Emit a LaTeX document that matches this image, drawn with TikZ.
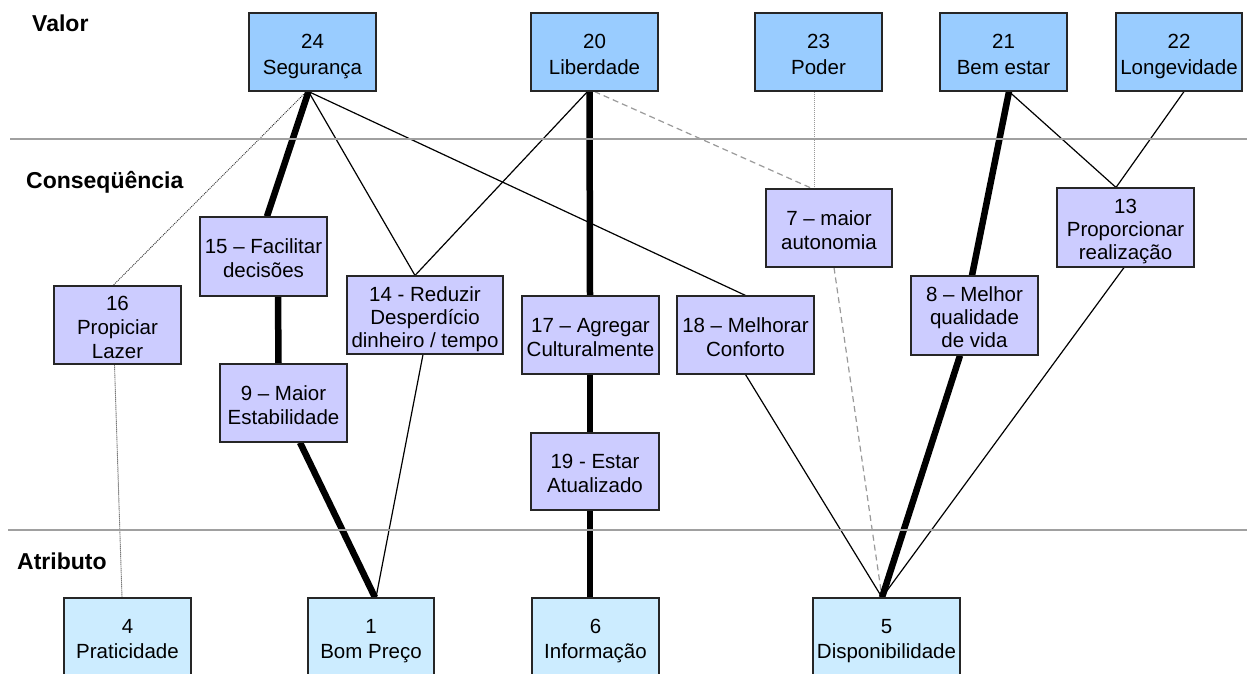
\documentclass[tikz,border=0pt]{standalone}
\usepackage{fontspec}
\setmainfont{Liberation Sans}
\usetikzlibrary{backgrounds}
\definecolor{valfill}{HTML}{99CCFF}
\definecolor{confill}{HTML}{CCCCFF}
\definecolor{atrfill}{HTML}{CCECFF}
\definecolor{sepgray}{HTML}{A0A0A0}
\definecolor{lgray}{HTML}{999999}
\newcommand{\topstrut}{\rule{0pt}{23.5pt}}
\begin{document}
\begin{tikzpicture}[x=1pt,y=-1pt,
  box/.style={draw=black!85, line width=1.1pt, inner sep=0pt, align=center,
    minimum height=78pt, font=\fontsize{20.5}{24}\selectfont,
    execute at end node={\rule[-5pt]{0pt}{5pt}}},
  valbox/.style={box, fill=valfill, font=\fontsize{20.5}{26}\selectfont},
  conbox/.style={box, fill=confill},
  atrbox/.style={box, fill=atrfill, font=\fontsize{20.5}{25}\selectfont},
  level/.style={anchor=base west, inner sep=0pt, font=\fontsize{23}{27}\selectfont\bfseries},
  sepline/.style={draw=sepgray, line width=1.4pt},
  strong/.style={line width=6.5pt},
  thinl/.style={line width=1.2pt},
  dotl/.style={line width=0.9pt, black!80, dash pattern=on 1pt off 1pt},
  dashl/.style={line width=1.2pt, lgray, dash pattern=on 6pt off 4pt},
  gdotl/.style={line width=1pt, lgray, dash pattern=on 1pt off 1pt}]
\useasboundingbox (0,0) rectangle (1250,673);
\clip (0,0) rectangle (1250,673);
% separators
\coordinate (s1l) at (10,139); \coordinate (s1r) at (1247,139);
\coordinate (s2l) at (8,530); \coordinate (s2r) at (1247,530);
\draw[sepline] (s1l) -- (s1r);
\draw[sepline] (s2l) -- (s2r);
% level labels
\node[level] (lv) at (32,31.5) {Valor};
\node[level] (lc) at (26,188) {Conseqüência};
\node[level] (la) at (17,569) {Atributo};
% values
\node[valbox, minimum width=127pt] (v24) at (312.5,52) {\topstrut 24\\Segurança};
\node[valbox, minimum width=127pt] (v20) at (594.5,52) {\topstrut 20\\Liberdade};
\node[valbox, minimum width=127pt] (v23) at (818.5,52) {\topstrut 23\\Poder};
\node[valbox, minimum width=127pt] (v21) at (1003.5,52) {\topstrut 21\\Bem estar};
\node[valbox, minimum width=126pt] (v22) at (1179,52) {\topstrut 22\\Longevidade};
% consequences
\node[conbox, minimum width=127pt, minimum height=79pt] (c15) at (263.5,256.5) {\topstrut 15 – Facilitar\\decisões};
\node[conbox, minimum width=127pt] (c16) at (117.5,325) {\topstrut 16\\Propiciar\\Lazer};
\node[conbox, minimum width=156pt, font=\fontsize{20.5}{23}\selectfont] (c14) at (425,315) {\topstrut 14 - Reduzir\\Desperdício\\dinheiro / tempo};
\node[conbox, minimum width=127pt] (c9) at (283.5,403) {\topstrut 9 – Maior\\Estabilidade};
\node[conbox, minimum width=137pt] (c17) at (590.5,335) {\topstrut 17 – Agregar\\Culturalmente};
\node[conbox, minimum width=137pt] (c18) at (745.5,335) {\topstrut 18 – Melhorar\\Conforto};
\node[conbox, minimum width=128pt, minimum height=77pt] (c19) at (595,471.5) {\topstrut 19 - Estar\\Atualizado};
\node[conbox, minimum width=126pt] (c7) at (829,228) {\topstrut 7 – maior\\autonomia};
\node[conbox, minimum width=137pt, minimum height=79pt, font=\fontsize{20.5}{23}\selectfont] (c13) at (1125.5,227.5) {\topstrut 13\\Proporcionar\\realização};
\node[conbox, minimum width=127pt, minimum height=79pt, font=\fontsize{20.5}{23}\selectfont] (c8) at (974.5,315.5) {\topstrut 8 – Melhor\\qualidade\\de vida};
% attributes
\node[atrbox, minimum width=127pt] (a4) at (127.5,637) {\topstrut 4\\Praticidade};
\node[atrbox, minimum width=126pt] (a1) at (371,637) {\topstrut 1\\Bom Preço};
\node[atrbox, minimum width=127pt] (a6) at (595.5,637) {\topstrut 6\\Informação};
\node[atrbox, minimum width=147pt] (a5) at (886.5,637) {\topstrut 5\\Disponibilidade};
% connectors
\begin{pgfonlayer}{background}
\draw[strong] ([xshift=-4pt]v24.south) -- ([xshift=3.5pt]c15.north);
\draw[strong] ([xshift=14.5pt]c15.south) -- ([xshift=-5pt]c9.north);
\draw[strong] ([xshift=16.5pt]c9.south) -- ([xshift=4pt]a1.north);
\draw[thinl] ([xshift=-2pt]c14.south) -- ([xshift=5pt]a1.north);
\draw[thinl] ([xshift=-4pt]v24.south) -- ([xshift=-10pt]c14.north);
\draw[thinl] ([xshift=-7pt]v20.south) -- ([xshift=-10pt]c14.north);
\draw[thinl] ([xshift=-4pt]v24.south) -- (c18.north);
\draw[dotl] ([xshift=-6pt]v24.south) -- ([xshift=-4.5pt]c16.north);
\draw[dotl] ([xshift=-3pt]c16.south) -- ([xshift=-5.5pt]a4.north);
\draw[strong] ([xshift=-5pt]v20.south) -- ([xshift=-0.5pt]c17.north);
\draw[strong] ([xshift=-0.5pt]c17.south) -- ([xshift=-5pt]c19.north);
\draw[strong] ([xshift=-5pt]c19.south) -- ([xshift=-5.5pt]a6.north);
\draw[dashl] (v20.south) -- ([xshift=-17pt]c7.north);
\draw[gdotl] ([xshift=-4.5pt]v23.south) -- ([xshift=-15pt]c7.north);
\draw[dashl] ([xshift=5pt]c7.south) -- ([xshift=-4.5pt]a5.north);
\draw[thinl] (c18.south) -- ([xshift=-4.5pt]a5.north);
\draw[strong] ([xshift=5.5pt]v21.south) -- ([xshift=-2.5pt]c8.north);
\draw[strong] ([xshift=-14.5pt]c8.south) -- ([xshift=-4.5pt]a5.north);
\draw[thinl] ([xshift=-1.5pt]c13.south) -- ([xshift=-4.5pt]a5.north);
\draw[thinl] ([xshift=5.5pt]v21.south) -- ([xshift=-9.5pt]c13.north);
\draw[thinl] ([xshift=5pt]v22.south) -- ([xshift=-9.5pt]c13.north);
\end{pgfonlayer}
\end{tikzpicture}
\end{document}
